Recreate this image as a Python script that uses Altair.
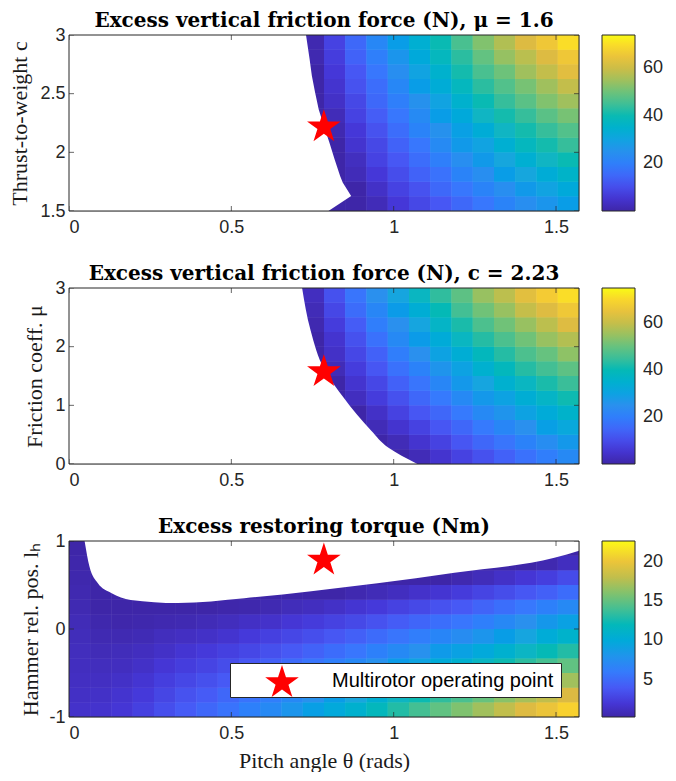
import altair as alt
import pandas as pd

W, H = 510, 176

PARULA = ["#3e26a8", "#4538d9", "#4759f5", "#3879fd", "#2a90ee", "#19a6de",
          "#10b5c3", "#2dbd9f", "#66c27f", "#a5c05b", "#dcba43", "#f7cd31", "#f9fb15"]

STAR = ("M0,-0.9045L0.2245,-0.2135L0.951,-0.2135L0.3633,0.2135L0.5878,0.9045"
        "L0,0.4775L-0.5878,0.9045L-0.3633,0.2135L-0.951,-0.2135L-0.2245,-0.2135Z")

# ---- grid (pitch angle cells) ----
THETA_EDGES = [0.0000, 0.0654, 0.1309, 0.1963, 0.2618, 0.3272, 0.3927, 0.4581, 0.5236,
               0.5890, 0.6545, 0.7199, 0.7854, 0.8508, 0.9163, 0.9817, 1.0472, 1.1126,
               1.1781, 1.2435, 1.3090, 1.3744, 1.4399, 1.5053, 1.5708]
C_EDGES = [1.5, 1.625, 1.75, 1.875, 2.0, 2.125, 2.25, 2.375, 2.5, 2.625, 2.75, 2.875, 3.0]
MU_EDGES = [0.0, 0.25, 0.5, 0.75, 1.0, 1.25, 1.5, 1.75, 2.0, 2.25, 2.5, 2.75, 3.0]
LH_EDGES = [-1.0, -0.8333, -0.6667, -0.5, -0.3333, -0.1667, 0.0, 0.1667, 0.3333, 0.5,
            0.6667, 0.8333, 1.0]

X_TICKS = [0, 0.5, 1, 1.5]
Y1_TICKS = [1.5, 2, 2.5, 3]
Y2_TICKS = [0, 1, 2, 3]
Y3_TICKS = [-1, 0, 1]

# ---- panel 1: excess vertical friction force (N), mu = 1.6 ; rows bottom -> top ----
P1_R01 = [0, 0, 0, 0, 0, 0, 0, 0, 0, 0, 0, 0, 0, 0, 2, 6, 9, 12, 15, 18, 21, 24, 26, 28]
P1_R02 = [0, 0, 0, 0, 0, 0, 0, 0, 0, 0, 0, 0, 0, 0, 4, 8, 11, 15, 18, 21, 24, 27, 30, 32]
P1_R03 = [0, 0, 0, 0, 0, 0, 0, 0, 0, 0, 0, 0, 0, 2, 6, 10, 14, 17, 21, 24, 28, 31, 33, 36]
P1_R04 = [0, 0, 0, 0, 0, 0, 0, 0, 0, 0, 0, 0, 0, 3, 8, 12, 16, 20, 24, 27, 31, 34, 37, 40]
P1_R05 = [0, 0, 0, 0, 0, 0, 0, 0, 0, 0, 0, 0, 0, 5, 9, 14, 18, 23, 27, 30, 34, 38, 41, 44]
P1_R06 = [0, 0, 0, 0, 0, 0, 0, 0, 0, 0, 0, 0, 1, 6, 11, 16, 21, 25, 29, 33, 37, 41, 44, 47]
P1_R07 = [0, 0, 0, 0, 0, 0, 0, 0, 0, 0, 0, 0, 2, 8, 13, 18, 23, 28, 32, 37, 41, 44, 48, 51]
P1_R08 = [0, 0, 0, 0, 0, 0, 0, 0, 0, 0, 0, 0, 4, 9, 15, 20, 25, 30, 35, 40, 44, 48, 52, 55]
P1_R09 = [0, 0, 0, 0, 0, 0, 0, 0, 0, 0, 0, 0, 5, 11, 16, 22, 28, 33, 38, 43, 47, 51, 55, 59]
P1_R10 = [0, 0, 0, 0, 0, 0, 0, 0, 0, 0, 0, 0, 6, 12, 18, 24, 30, 35, 41, 46, 50, 55, 59, 63]
P1_R11 = [0, 0, 0, 0, 0, 0, 0, 0, 0, 0, 0, 1, 7, 14, 20, 26, 32, 38, 43, 49, 54, 58, 62, 66]
P1_R12 = [0, 0, 0, 0, 0, 0, 0, 0, 0, 0, 0, 1, 8, 15, 22, 28, 34, 40, 46, 52, 57, 62, 66, 70]

# ---- panel 2: excess vertical friction force (N), c = 2.23 ; rows bottom -> top ----
P2_R01 = [0, 0, 0, 0, 0, 0, 0, 0, 0, 0, 0, 0, 0, 0, 0, 0, 2, 5, 8, 11, 14, 17, 20, 23]
P2_R02 = [0, 0, 0, 0, 0, 0, 0, 0, 0, 0, 0, 0, 0, 0, 0, 2, 5, 8, 12, 15, 18, 21, 24, 27]
P2_R03 = [0, 0, 0, 0, 0, 0, 0, 0, 0, 0, 0, 0, 0, 0, 2, 5, 8, 12, 15, 19, 22, 25, 29, 32]
P2_R04 = [0, 0, 0, 0, 0, 0, 0, 0, 0, 0, 0, 0, 0, 0, 4, 8, 12, 15, 19, 23, 26, 30, 33, 36]
P2_R05 = [0, 0, 0, 0, 0, 0, 0, 0, 0, 0, 0, 0, 0, 3, 7, 11, 15, 19, 23, 27, 30, 34, 37, 41]
P2_R06 = [0, 0, 0, 0, 0, 0, 0, 0, 0, 0, 0, 0, 0, 5, 9, 14, 18, 22, 27, 31, 35, 38, 42, 45]
P2_R07 = [0, 0, 0, 0, 0, 0, 0, 0, 0, 0, 0, 0, 2, 7, 12, 17, 21, 26, 30, 35, 39, 43, 46, 49]
P2_R08 = [0, 0, 0, 0, 0, 0, 0, 0, 0, 0, 0, 0, 4, 9, 14, 20, 25, 30, 34, 39, 43, 47, 50, 54]
P2_R09 = [0, 0, 0, 0, 0, 0, 0, 0, 0, 0, 0, 0, 5, 11, 17, 23, 28, 33, 38, 43, 47, 51, 55, 58]
P2_R10 = [0, 0, 0, 0, 0, 0, 0, 0, 0, 0, 0, 1, 7, 13, 20, 25, 31, 37, 42, 47, 51, 55, 59, 63]
P2_R11 = [0, 0, 0, 0, 0, 0, 0, 0, 0, 0, 0, 2, 9, 16, 22, 28, 34, 40, 46, 51, 55, 60, 63, 67]
P2_R12 = [0, 0, 0, 0, 0, 0, 0, 0, 0, 0, 0, 3, 11, 18, 25, 31, 38, 44, 49, 55, 59, 64, 68, 71]

# ---- panel 3: excess restoring torque (Nm) ; rows bottom -> top ----
P3_R01 = [1.6, 1.7, 2.0, 2.6, 3.4, 4.1, 4.8, 5.5, 6.4, 7.1, 8.1, 8.9, 9.9, 10.8, 11.9, 13.0, 14.0, 15.0, 15.9, 16.9, 18.0, 19.0, 19.9, 20.9]
P3_R02 = [1.4, 1.5, 1.8, 2.2, 2.9, 3.6, 4.1, 4.8, 5.5, 6.2, 7.0, 7.8, 8.7, 9.6, 10.5, 11.5, 12.4, 13.4, 14.2, 15.2, 16.2, 17.1, 18.0, 18.9]
P3_R03 = [1.3, 1.3, 1.5, 1.9, 2.5, 3.0, 3.5, 4.0, 4.7, 5.3, 6.0, 6.7, 7.5, 8.3, 9.2, 10.0, 10.9, 11.7, 12.5, 13.4, 14.3, 15.2, 16.0, 16.9]
P3_R04 = [1.2, 1.1, 1.2, 1.5, 2.0, 2.4, 2.8, 3.3, 3.9, 4.4, 5.0, 5.6, 6.3, 7.0, 7.8, 8.6, 9.3, 10.1, 10.8, 11.6, 12.5, 13.3, 14.1, 15.0]
P3_R05 = [1.1, 0.9, 1.0, 1.2, 1.5, 1.9, 2.2, 2.6, 3.0, 3.5, 4.0, 4.5, 5.1, 5.7, 6.4, 7.1, 7.8, 8.5, 9.1, 9.9, 10.7, 11.4, 12.2, 13.0]
P3_R06 = [1.0, 0.7, 0.7, 0.8, 1.1, 1.3, 1.5, 1.8, 2.2, 2.6, 3.0, 3.4, 3.9, 4.4, 5.0, 5.6, 6.2, 6.8, 7.4, 8.1, 8.8, 9.5, 10.2, 11.0]
P3_R07 = [0.9, 0.5, 0.4, 0.5, 0.6, 0.7, 0.9, 1.1, 1.4, 1.6, 2.0, 2.3, 2.7, 3.1, 3.6, 4.2, 4.7, 5.2, 5.7, 6.3, 7.0, 7.7, 8.3, 9.1]
P3_R08 = [0.7, 0.3, 0.2, 0.1, 0.1, 0.2, 0.2, 0.4, 0.5, 0.7, 1.0, 1.2, 1.5, 1.9, 2.2, 2.7, 3.1, 3.6, 4.0, 4.6, 5.2, 5.8, 6.4, 7.1]
P3_R09 = [0.6, 0.1, 0, 0, 0, 0, 0, 0, 0, 0, 0, 0.1, 0.3, 0.6, 0.9, 1.2, 1.6, 1.9, 2.3, 2.8, 3.3, 3.9, 4.4, 5.1]
P3_R10 = [0.5, 0, 0, 0, 0, 0, 0, 0, 0, 0, 0, 0, 0, 0, 0, 0, 0, 0.3, 0.6, 1.0, 1.5, 2.0, 2.5, 3.2]
P3_R11 = [0.4, 0, 0, 0, 0, 0, 0, 0, 0, 0, 0, 0, 0, 0, 0, 0, 0, 0, 0, 0, 0, 0.1, 0.6, 1.2]
P3_R12 = [0.3, 0, 0, 0, 0, 0, 0, 0, 0, 0, 0, 0, 0, 0, 0, 0, 0, 0, 0, 0, 0, 0, 0, 0]

# ---- feasibility boundaries (white = infeasible) ----
B1_C = [1.5, 1.628, 1.742, 1.799, 1.941, 2.083, 2.234, 2.368, 2.510, 2.653, 2.795, 3.0]
B1_TH = [0.799, 0.869, 0.843, 0.835, 0.818, 0.802, 0.784, 0.769, 0.758, 0.748, 0.741, 0.730]
B2_MU = [0.0, 0.28, 0.566, 1.137, 1.606, 2.28, 3.0]
B2_TH = [1.073, 0.983, 0.931, 0.845, 0.787, 0.744, 0.718]
B3_TH = [0.048, 0.063, 0.089, 0.13, 0.19, 0.335, 0.54, 0.746, 0.95, 1.187, 1.495, 1.571]
B3_LH = [1.0, 0.71, 0.52, 0.41, 0.33, 0.295, 0.35, 0.43, 0.52, 0.64, 0.81, 0.89]

# ---- colorbars ----
CB1_DOMAIN, CB1_TICKS = [0, 74], [20, 40, 60]
CB2_DOMAIN, CB2_TICKS = [0, 75], [20, 40, 60]
CB3_DOMAIN, CB3_TICKS = [0.3, 22.6], [5, 10, 15, 20]

# ---- operating point ----
STAR_THETA = 0.785
STAR_C = 2.23
STAR_MU = 1.6
STAR_LH = 0.8
STAR_LABEL = "Multirotor operating point"

XDOM = [0, 1.5708]
AX = "#262626"
SANS = "Liberation Sans"
SERIF = "Liberation Serif"
STAR_SIZE = 1250


def grid_table(rows, yedges):
    recs = []
    for i, row in enumerate(rows):
        for j, v in enumerate(row):
            recs.append({"x": THETA_EDGES[j], "x2": THETA_EDGES[j + 1],
                         "y": yedges[i], "y2": yedges[i + 1], "v": v})
    return pd.DataFrame(recs)


LABEL_EXPR = "datum.value < 0 ? '-' + format(-datum.value, '~g') : format(datum.value, '~g')"


def panel(rows, yedges, ydom, yticks, ytitle, ytitle_pad, title, cdom, cticks,
          mask, star_y, xtitle=None, with_legend=False):
    xs = alt.Scale(domain=XDOM, nice=False, zero=False)
    ys = alt.Scale(domain=ydom, nice=False, zero=False)
    xax = alt.Axis(values=X_TICKS, ticks=False, domain=False, grid=False,
                   labelExpr=LABEL_EXPR, labelFont=SANS, labelFontSize=18,
                   labelColor=AX, labelPadding=7, title=xtitle, titleFont=SERIF,
                   titleFontSize=22, titleFontWeight="normal", titleColor="#1a1a1a",
                   titlePadding=8)
    yax = alt.Axis(values=yticks, ticks=False, domain=False, grid=False,
                   labelExpr=LABEL_EXPR, labelFont=SANS, labelFontSize=18,
                   labelColor=AX, labelPadding=4, title=ytitle, titleFont=SERIF,
                   titleFontSize=22, titleFontWeight="normal", titleColor="#1a1a1a",
                   titlePadding=ytitle_pad)
    cs = alt.Scale(domain=cdom, range=PARULA, clamp=True, nice=False, zero=False)
    leg = alt.Legend(type="gradient", title=None, values=cticks, gradientLength=H,
                     gradientThickness=33, gradientStrokeColor=AX, gradientStrokeWidth=1,
                     labelFont=SANS, labelFontSize=18, labelColor=AX, labelOffset=8,
                     offset=23, padding=0, direction="vertical", orient="right")
    df = grid_table(rows, yedges)
    base = alt.Chart(df).mark_rect().encode(
        x=alt.X("x:Q", scale=xs, axis=xax), x2="x2:Q",
        y=alt.Y("y:Q", scale=ys, axis=yax), y2="y2:Q",
        color=alt.Color("v:Q", scale=cs, legend=leg),
    )
    mask_df, mask_kind, interp = mask
    if mask_kind == "left":
        white = alt.Chart(mask_df).mark_area(orient="horizontal", color="white",
                                             interpolate=interp).encode(
            y=alt.Y("yb:Q", scale=ys, axis=yax),
            x=alt.X("xb:Q", scale=xs, axis=xax), x2=alt.datum(0))
    else:
        white = alt.Chart(mask_df).mark_area(orient="vertical", color="white",
                                             interpolate=interp).encode(
            x=alt.X("xb:Q", scale=xs, axis=xax),
            y=alt.Y("yb:Q", scale=ys, axis=yax), y2=alt.datum(ydom[1]))
    tk_x = pd.DataFrame({"t": X_TICKS})
    tk_y = pd.DataFrame({"t": yticks})
    tick_layers = []
    for ypix in (0, H):
        tick_layers.append(alt.Chart(tk_x).mark_tick(orient="vertical", size=10, thickness=1,
                                                     color=AX, clip=True).encode(
            x=alt.X("t:Q", scale=xs, axis=xax), y=alt.value(ypix)))
    for xpix in (0, W):
        tick_layers.append(alt.Chart(tk_y).mark_tick(orient="horizontal", size=10, thickness=1,
                                                     color=AX, clip=True).encode(
            y=alt.Y("t:Q", scale=ys, axis=yax), x=alt.value(xpix)))
    star_df = pd.DataFrame({"sx": [STAR_THETA], "sy": [star_y], "name": [STAR_LABEL]})
    frame = alt.Chart(star_df).mark_rect(fillOpacity=0, stroke=AX, strokeWidth=1).encode(
        x=alt.value(0), x2=alt.value(W), y=alt.value(0), y2=alt.value(H))
    if with_legend:
        shape = alt.Shape("name:N", scale=alt.Scale(domain=[STAR_LABEL], range=[STAR]),
                          legend=alt.Legend(orient="none", legendX=161, legendY=122,
                                            title="\u00a0", titleOrient="right",
                                            titleFontSize=2, titlePadding=8,
                                            fillColor="white", strokeColor=AX,
                                            padding=0, symbolSize=STAR_SIZE, symbolOffset=34,
                                            labelOffset=32, labelFont=SANS, labelFontSize=20,
                                            labelColor="black", symbolFillColor="#ff0000",
                                            symbolStrokeColor="#ff0000", symbolStrokeWidth=0,
                                            symbolOpacity=1, labelLimit=500))
        star = alt.Chart(star_df).mark_point(filled=True, size=STAR_SIZE, color="#ff0000",
                                             opacity=1, strokeWidth=0).encode(
            x=alt.X("sx:Q", scale=xs, axis=xax), y=alt.Y("sy:Q", scale=ys, axis=yax),
            shape=shape)
    else:
        star = alt.Chart(star_df).mark_point(filled=True, size=STAR_SIZE, color="#ff0000",
                                             opacity=1, strokeWidth=0, shape=STAR).encode(
            x=alt.X("sx:Q", scale=xs, axis=xax), y=alt.Y("sy:Q", scale=ys, axis=yax))
    # heat cells drawn twice so that antialiased seams between neighbouring cells vanish
    return alt.layer(base, base, white, *tick_layers, frame, star).properties(
        width=W, height=H,
        title=alt.TitleParams(text=title, font="DejaVu Serif", fontSize=20,
                              fontWeight="bold", color="black", offset=-5,
                              anchor="middle"))


m1 = (pd.DataFrame({"yb": B1_C, "xb": B1_TH}), "left", "linear")
m2 = (pd.DataFrame({"yb": B2_MU, "xb": B2_TH}), "left", "monotone")
m3 = (pd.DataFrame({"xb": B3_TH, "yb": B3_LH}), "top", "monotone")

p1 = panel([P1_R01, P1_R02, P1_R03, P1_R04, P1_R05, P1_R06, P1_R07, P1_R08, P1_R09,
            P1_R10, P1_R11, P1_R12], C_EDGES, [1.5, 3], Y1_TICKS,
           "Thrust-to-weight c", 8, "Excess vertical friction force (N), μ = 1.6",
           CB1_DOMAIN, CB1_TICKS, m1, STAR_C)
p2 = panel([P2_R01, P2_R02, P2_R03, P2_R04, P2_R05, P2_R06, P2_R07, P2_R08, P2_R09,
            P2_R10, P2_R11, P2_R12], MU_EDGES, [0, 3], Y2_TICKS,
           "Friction coeff. μ", 8, "Excess vertical friction force (N), c = 2.23",
           CB2_DOMAIN, CB2_TICKS, m2, STAR_MU)
p3 = panel([P3_R01, P3_R02, P3_R03, P3_R04, P3_R05, P3_R06, P3_R07, P3_R08, P3_R09,
            P3_R10, P3_R11, P3_R12], LH_EDGES, [-1, 1], Y3_TICKS,
           "Hammer rel. pos. lₕ", 6, "Excess restoring torque (Nm)",
           CB3_DOMAIN, CB3_TICKS, m3, STAR_LH, xtitle="Pitch angle θ (rads)",
           with_legend=True)

chart = alt.vconcat(p1, p2, p3, spacing=26).resolve_scale(
    color="independent", shape="independent"
).properties(padding={"top": 2, "left": 0, "right": 0, "bottom": 0}).configure_view(
    stroke=None).configure(background="white")

chart.save("out.html", embed_options={"renderer": "svg", "actions": False})
